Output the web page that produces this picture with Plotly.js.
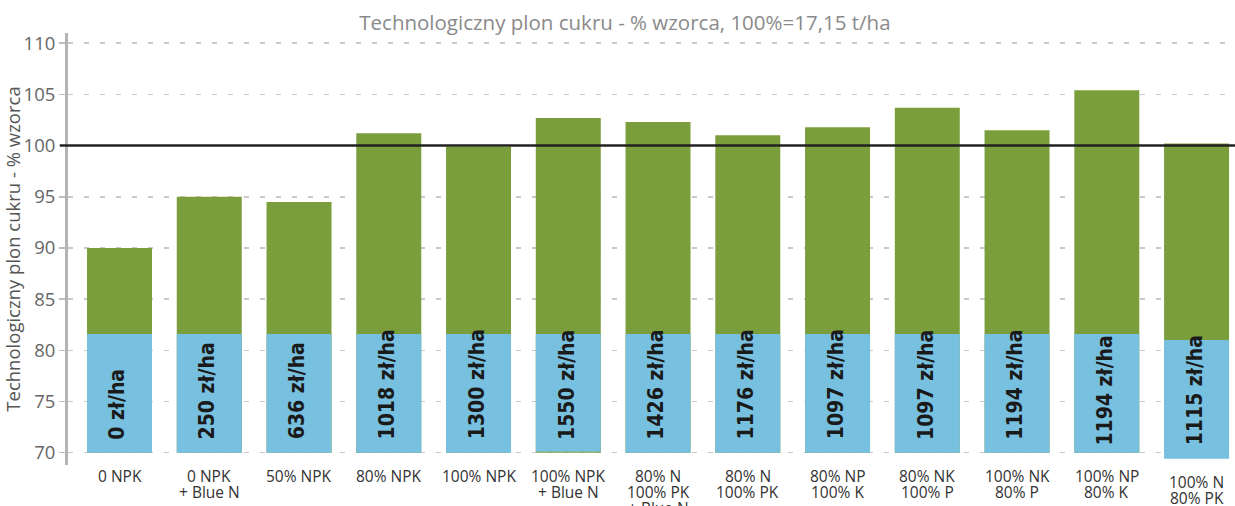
<!DOCTYPE html>
<html>
<head>
<meta charset="utf-8">
<script src="https://cdn.plot.ly/plotly-3.0.1.min.js"></script>
<style>
html,body{margin:0;padding:0;background:#fff;}
#chart{width:1235px;height:506px;}
</style>
</head>
<body>
<div id="chart"></div>
<script>
// ---- data ----
var categories = ["0 NPK", "0 NPK<br>+ Blue N", "50% NPK", "80% NPK", "100% NPK",
  "100% NPK<br>+ Blue N", "80% N<br>100% PK<br>+ Blue N", "80% N<br>100% PK",
  "80% NP<br>100% K", "80% NK<br>100% P", "100% NK<br>80% P", "100% NP<br>80% K", "100% N<br>80% PK"];
var yieldPct = [90.0, 95.0, 94.5, 101.2, 99.9, 102.7, 102.3, 101.0, 101.8, 103.7, 101.5, 105.4, 100.2];
var costLabels = ["0 zł/ha", "250 zł/ha", "636 zł/ha", "1018 zł/ha", "1300 zł/ha", "1550 zł/ha",
  "1426 zł/ha", "1176 zł/ha", "1097 zł/ha", "1097 zł/ha", "1194 zł/ha", "1194 zł/ha", "1115 zł/ha"];
var costBoxBottom = [70, 70, 70, 70, 70, 70.1, 70, 70, 70, 70, 70, 70, 69.4];
var costBoxTop = [81.6, 81.6, 81.6, 81.6, 81.6, 81.6, 81.6, 81.6, 81.6, 81.6, 81.6, 81.6, 81.0];
var yTicks = [70, 75, 80, 85, 90, 95, 100, 105, 110];
var referenceLevel = 100;
var greenBase = 70;

// ---- build ----
var idx = categories.map(function(_, i){ return i; });
var greenTrace = {
  type: 'bar', x: idx, y: yieldPct.map(function(v){ return v - greenBase; }),
  base: greenBase, width: 0.724, marker: {color: '#7b9e3d'}, hoverinfo: 'skip'
};
var blueTrace = {
  type: 'bar', x: idx, y: costBoxTop.map(function(t, i){ return t - costBoxBottom[i]; }),
  base: costBoxBottom, width: 0.724, marker: {color: '#78c0df'}, hoverinfo: 'skip'
};

var annotations = [];
// category labels, one annotation per line for tight line spacing
idx.forEach(function(i){
  var lines = categories[i].split('<br>');
  var extra = (i === categories.length - 1) ? 6 : 0;
  lines.forEach(function(line, k){
    annotations.push({
      x: i, y: 0, xref: 'x', yref: 'paper', xanchor: 'center', yanchor: 'middle',
      text: line, showarrow: false, align: 'center',
      yshift: -(11 + extra + k * 16),
      font: {family: 'Open Sans, sans-serif', size: 15.5, color: '#333333'}
    });
  });
});
// cost labels (rotated)
idx.forEach(function(i){
  var shifted = (i >= 11);
  annotations.push({
    x: i, y: 70, xref: 'x', yref: 'y',
    xanchor: 'center', yanchor: 'bottom', textangle: -90,
    text: '<b>' + costLabels[i] + '</b>', showarrow: false,
    xshift: -2, yshift: shifted ? 5 : 11,
    font: {family: 'Liberation Sans Narrow, DejaVu Sans Condensed, sans-serif', size: 21, color: '#1a1a1a'}
  });
});

var layout = {
  width: 1235, height: 506,
  margin: {l: 68, r: 2, t: 33, b: 41},
  paper_bgcolor: '#ffffff', plot_bgcolor: '#ffffff',
  barmode: 'overlay', showlegend: false,
  title: {
    text: 'Technologiczny plon cukru - % wzorca, 100%=17,15 t/ha',
    x: 0.506, xanchor: 'center', y: 0.955, yanchor: 'middle',
    font: {family: 'Open Sans, sans-serif', size: 20.5, color: '#8a8a8a'}
  },
  xaxis: {
    range: [-0.574, 12.406], showticklabels: false, showgrid: false,
    zeroline: false, showline: false, ticks: '', fixedrange: true
  },
  yaxis: {
    range: [68.8, 111], tickvals: yTicks, ticktext: yTicks.map(String),
    showline: true, linecolor: '#b4b4b4', linewidth: 3,
    ticks: 'outside', ticklen: 6, tickcolor: '#bcbcbc', tickwidth: 1.5,
    showgrid: true, gridcolor: '#c9c9c9', gridwidth: 1.5, griddash: '5px,11px',
    zeroline: false,
    tickfont: {family: 'Open Sans, sans-serif', size: 18.5, color: '#666666'},
    title: {text: 'Technologiczny plon cukru - % wzorca', standoff: 2,
      font: {family: 'Open Sans, sans-serif', size: 18.5, color: '#555555'}}
  },
  shapes: [{
    type: 'line', xref: 'paper', yref: 'y', x0: -0.007, x1: 1.01,
    y0: referenceLevel, y1: referenceLevel,
    line: {color: '#222222', width: 2.5}
  }],
  annotations: annotations
};

Plotly.newPlot('chart', [greenTrace, blueTrace], layout, {displayModeBar: false, staticPlot: true});
</script>
</body>
</html>
